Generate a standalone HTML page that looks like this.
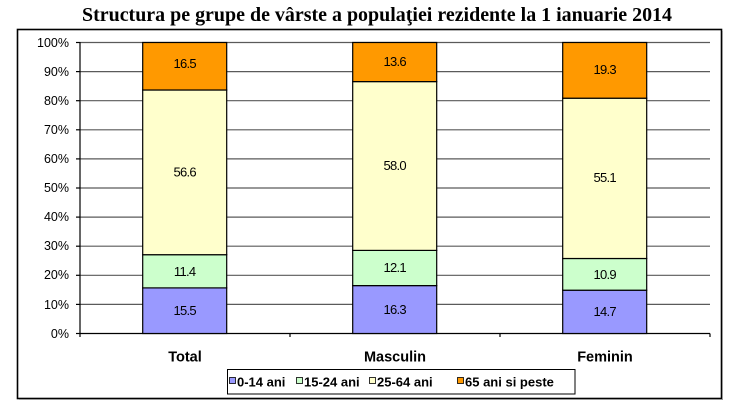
<!DOCTYPE html>
<html><head><meta charset="utf-8"><style>
html,body{margin:0;padding:0;background:#fff;}
svg{display:block;}
</style></head><body>
<svg width="754" height="403" viewBox="0 0 754 403" xmlns="http://www.w3.org/2000/svg">
<rect width="754" height="403" fill="#fff"/>
<text x="377" y="21" text-anchor="middle" font-family="Liberation Serif, serif" font-weight="bold" font-size="20" textLength="590" lengthAdjust="spacingAndGlyphs" fill="#000">Structura pe grupe de vârste a populaţiei rezidente la 1 ianuarie 2014</text>
<rect x="17.5" y="29.5" width="704" height="369" fill="none" stroke="#000" stroke-width="1.6"/>
<line x1="19" y1="399.5" x2="723" y2="399.5" stroke="#999" stroke-width="1"/>
<line x1="722.5" y1="31" x2="722.5" y2="400" stroke="#999" stroke-width="1"/>
<g stroke="#5a5a5a" stroke-width="1.2">
<line x1="80" y1="42.5" x2="710" y2="42.5"/>
<line x1="80" y1="71.6" x2="710" y2="71.6"/>
<line x1="80" y1="100.7" x2="710" y2="100.7"/>
<line x1="80" y1="129.8" x2="710" y2="129.8"/>
<line x1="80" y1="158.9" x2="710" y2="158.9"/>
<line x1="80" y1="188" x2="710" y2="188"/>
<line x1="80" y1="217.1" x2="710" y2="217.1"/>
<line x1="80" y1="246.2" x2="710" y2="246.2"/>
<line x1="80" y1="275.3" x2="710" y2="275.3"/>
<line x1="80" y1="304.4" x2="710" y2="304.4"/>
</g>
<g stroke="#000" stroke-width="1.2">
<line x1="80" y1="42" x2="80" y2="333.5"/>
<line x1="76" y1="42.5" x2="80" y2="42.5"/><line x1="76" y1="71.6" x2="80" y2="71.6"/><line x1="76" y1="100.7" x2="80" y2="100.7"/><line x1="76" y1="129.8" x2="80" y2="129.8"/><line x1="76" y1="158.9" x2="80" y2="158.9"/><line x1="76" y1="188" x2="80" y2="188"/><line x1="76" y1="217.1" x2="80" y2="217.1"/><line x1="76" y1="246.2" x2="80" y2="246.2"/><line x1="76" y1="275.3" x2="80" y2="275.3"/><line x1="76" y1="304.4" x2="80" y2="304.4"/><line x1="76" y1="333.5" x2="80" y2="333.5"/>
<line x1="80" y1="333.5" x2="710" y2="333.5"/>
<line x1="80" y1="333.5" x2="80" y2="337"/><line x1="290" y1="333.5" x2="290" y2="337"/><line x1="500" y1="333.5" x2="500" y2="337"/><line x1="710" y1="333.5" x2="710" y2="337"/>
</g>
<g font-family="Liberation Sans, sans-serif" font-size="12.5" fill="#000" text-anchor="end">
<text x="69" y="47">100%</text><text x="69" y="76">90%</text><text x="69" y="105">80%</text><text x="69" y="134">70%</text><text x="69" y="163">60%</text><text x="69" y="192">50%</text><text x="69" y="221">40%</text><text x="69" y="250">30%</text><text x="69" y="279">20%</text><text x="69" y="309">10%</text><text x="69" y="338">0%</text>
</g>
<g stroke="#000" stroke-width="1.2">
<rect x="142.7" y="287.9" width="84" height="45.6" fill="#9999FF"/>
<rect x="142.7" y="254.7" width="84" height="33.2" fill="#CCFFCC"/>
<rect x="142.7" y="90" width="84" height="164.7" fill="#FFFFCC"/>
<rect x="142.7" y="42.5" width="84" height="47.5" fill="#FF9900"/>
<rect x="352.7" y="285.6" width="84" height="47.9" fill="#9999FF"/>
<rect x="352.7" y="250.4" width="84" height="35.2" fill="#CCFFCC"/>
<rect x="352.7" y="81.6" width="84" height="168.8" fill="#FFFFCC"/>
<rect x="352.7" y="42.5" width="84" height="39.1" fill="#FF9900"/>
<rect x="562.7" y="290.2" width="84" height="43.3" fill="#9999FF"/>
<rect x="562.7" y="258.5" width="84" height="31.7" fill="#CCFFCC"/>
<rect x="562.7" y="98.2" width="84" height="160.3" fill="#FFFFCC"/>
<rect x="562.7" y="42.5" width="84" height="55.7" fill="#FF9900"/>
</g>
<g font-family="Liberation Sans, sans-serif" font-size="13" fill="#000" text-anchor="middle" letter-spacing="-0.7">
<text x="184.7" y="315">15.5</text><text x="184.7" y="276">11.4</text><text x="184.7" y="176.5">56.6</text><text x="184.7" y="68">16.5</text>
<text x="394.7" y="314">16.3</text><text x="394.7" y="272">12.1</text><text x="394.7" y="170">58.0</text><text x="394.7" y="66">13.6</text>
<text x="604.7" y="316">14.7</text><text x="604.7" y="279">10.9</text><text x="604.7" y="182">55.1</text><text x="604.7" y="74">19.3</text>
</g>
<g font-family="Liberation Sans, sans-serif" font-weight="bold" font-size="14.5" fill="#000" text-anchor="middle">
<text x="185" y="361.5">Total</text><text x="395" y="361.5">Masculin</text><text x="605" y="361.5">Feminin</text>
</g>
<rect x="227.5" y="369.5" width="347.5" height="24.5" fill="#fff" stroke="#000" stroke-width="1"/>
<g stroke="#000" stroke-width="0.8">
<rect x="229.5" y="377.5" width="6" height="6" fill="#9999FF"/>
<rect x="296.5" y="377.5" width="6" height="6" fill="#CCFFCC"/>
<rect x="369.5" y="377.5" width="6" height="6" fill="#FFFFCC"/>
<rect x="457.5" y="377.5" width="6" height="6" fill="#FF9900"/>
</g>
<g font-family="Liberation Sans, sans-serif" font-weight="bold" font-size="13" fill="#000">
<text x="237" y="386.5">0-14 ani</text><text x="304" y="386.5">15-24 ani</text><text x="377" y="386.5">25-64 ani</text><text x="465" y="386.5">65 ani si peste</text>
</g>
</svg>
</body></html>
